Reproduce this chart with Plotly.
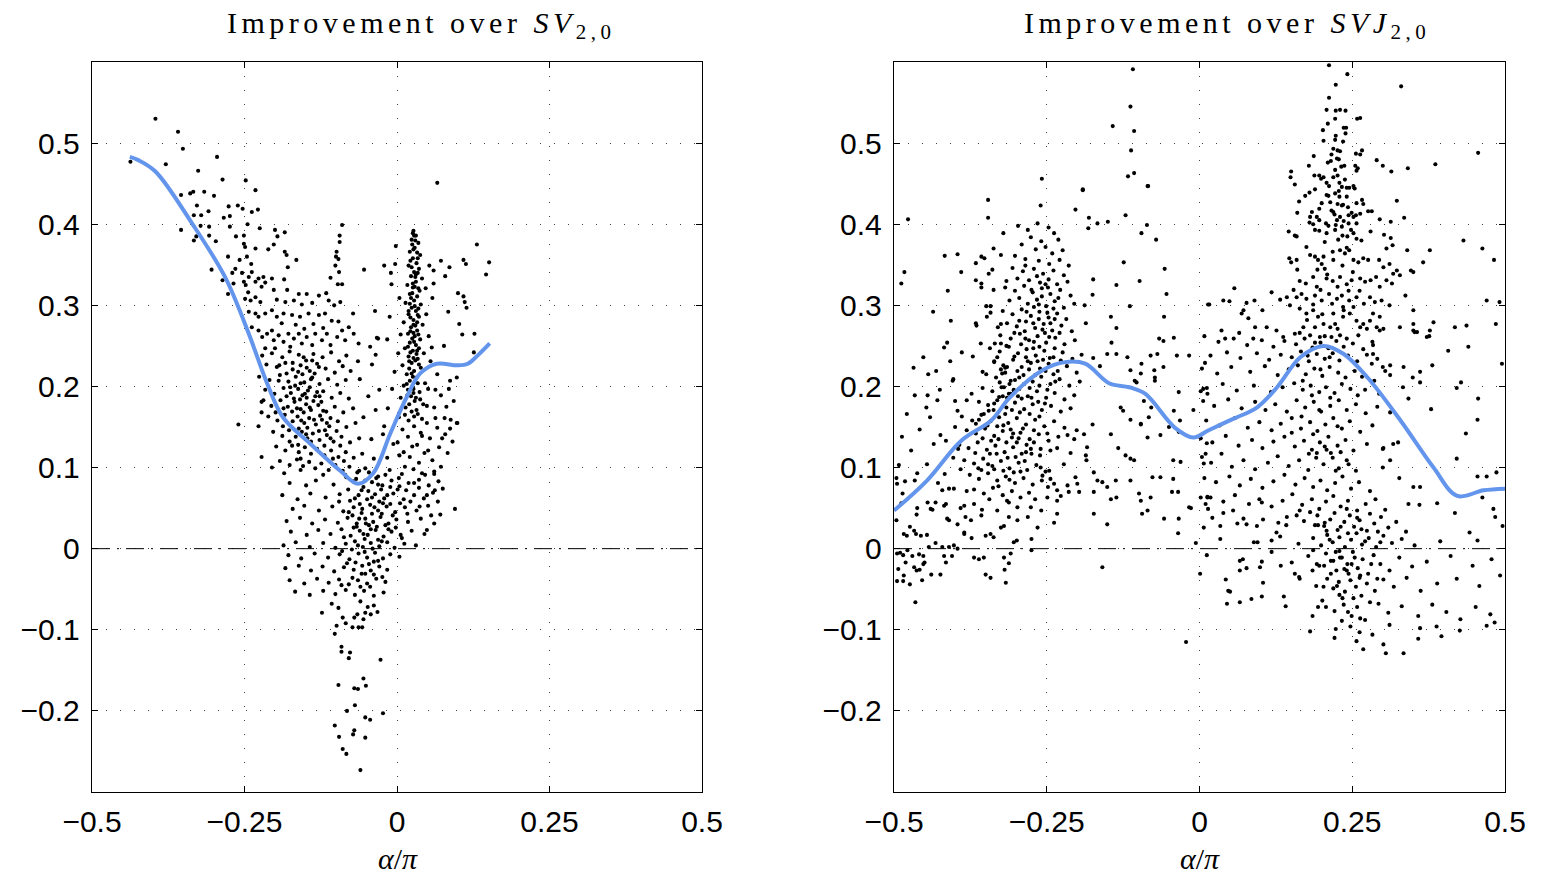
import plotly.graph_objects as go

# ---------------- data ----------------
X_TICKS = [-0.5, -0.25, 0, 0.25, 0.5]
X_TICK_TEXT = ["\u22120.5", "\u22120.25", "0", "0.25", "0.5"]
Y_TICKS = [-0.2, -0.1, 0, 0.1, 0.2, 0.3, 0.4, 0.5]
Y_TICK_TEXT = ["\u22120.2", "\u22120.1", "0", "0.1", "0.2", "0.3", "0.4", "0.5"]

TITLE_LEFT = "Improvement over <i>SV</i><sub>2,0</sub>"
TITLE_RIGHT = "Improvement over <i>SVJ</i><sub>2,0</sub>"
X_LABEL = "<i>\u03b1</i>/<i>\u03c0</i>"

# smoothed trend curves
left_curve_x = [-0.438, -0.424, -0.396, -0.336, -0.282, -0.243, -0.213, -0.187, -0.143, -0.093,
                -0.064, -0.039, -0.011, 0.016, 0.038, 0.065, 0.099, 0.116, 0.132, 0.152]
left_curve_y = [0.483, 0.479, 0.465, 0.401, 0.335, 0.265, 0.204, 0.162, 0.130, 0.096,
                0.080, 0.093, 0.142, 0.187, 0.216, 0.228, 0.226, 0.228, 0.238, 0.253]
right_curve_x = [-0.5, -0.446, -0.390, -0.341, -0.311, -0.257, -0.220, -0.187, -0.148, -0.115,
                 -0.089, -0.040, -0.010, 0.015, 0.055, 0.094, 0.127, 0.165, 0.203, 0.236,
                 0.275, 0.329, 0.383, 0.422, 0.465, 0.5]
right_curve_y = [0.047, 0.084, 0.133, 0.158, 0.186, 0.220, 0.230, 0.228, 0.204, 0.199,
                 0.191, 0.149, 0.137, 0.146, 0.160, 0.174, 0.199, 0.236, 0.250, 0.240,
                 0.211, 0.158, 0.100, 0.065, 0.072, 0.074]

# ---- left panel scatter (alpha/pi, improvement) ----
left_spray = [
    (-0.396,0.530),(-0.359,0.514),(-0.351,0.493),(-0.437,0.477),(-0.379,0.474),(-0.295,0.483),(-0.326,0.466),
    (-0.286,0.455),(-0.248,0.454),(-0.232,0.442),(-0.354,0.436),(-0.339,0.438),(-0.334,0.440),(-0.316,0.440),
    (-0.300,0.435),(-0.328,0.423),(-0.309,0.416),(-0.276,0.422),(-0.261,0.423),(-0.253,0.419),(-0.238,0.415),
    (-0.228,0.418),(-0.333,0.411),(-0.321,0.411),(-0.284,0.408),(-0.274,0.410),(-0.322,0.398),(-0.308,0.397),
    (-0.274,0.397),(-0.245,0.400),(-0.225,0.395),(-0.354,0.393),(-0.329,0.385),(-0.308,0.386),(-0.297,0.379),
    (-0.333,0.380),(-0.264,0.385),(-0.251,0.386),(-0.251,0.376),(-0.249,0.372),(-0.232,0.370),(-0.200,0.393),
    (-0.196,0.385),(-0.184,0.390),(-0.202,0.375),(-0.211,0.369),(-0.184,0.366),(-0.181,0.362),(-0.165,0.356),
    (-0.179,0.347),(-0.185,0.332),(-0.090,0.399),(-0.094,0.386),(-0.094,0.378),(-0.099,0.366),(-0.100,0.360),
    (-0.096,0.357),(-0.101,0.349),(-0.095,0.341),(-0.109,0.334),(-0.097,0.326),(-0.090,0.326),(-0.093,0.304),
    (-0.116,0.315),(-0.054,0.344),(-0.021,0.349),(-0.010,0.340),(-0.009,0.326),(-0.036,0.293),(-0.072,0.290),
    (-0.304,0.344),(-0.277,0.360),(-0.265,0.345),(-0.270,0.340),(-0.258,0.356),(-0.246,0.360),(-0.239,0.351),
    (-0.254,0.340),(-0.243,0.335),(-0.238,0.341),(-0.232,0.329),(-0.227,0.333),(-0.219,0.335),(-0.216,0.328),
    (-0.222,0.323),(-0.205,0.333),(-0.202,0.319),(-0.180,0.319),(-0.161,0.314),(-0.148,0.314),(-0.128,0.312),
    (-0.197,0.307),(-0.183,0.304),(-0.169,0.306),(-0.156,0.301),(-0.139,0.303),(-0.112,0.306),(-0.103,0.300),
    (-0.277,0.314),(-0.286,0.331),(-0.268,0.327),
]
left_upper_band = [
    (-0.251,0.329),(-0.248,0.325),(-0.244,0.316),(-0.249,0.308),(-0.240,0.306),(-0.232,0.310),(-0.224,0.304),
    (-0.243,0.292),(-0.232,0.290),(-0.227,0.286),(-0.216,0.290),(-0.205,0.294),(-0.197,0.286),(-0.186,0.290),
    (-0.172,0.288),(-0.159,0.286),(-0.145,0.290),(-0.128,0.288),(-0.118,0.290),(-0.107,0.281),(-0.096,0.280),
    (-0.090,0.269),(-0.079,0.273),(-0.238,0.273),(-0.227,0.269),(-0.221,0.261),(-0.213,0.265),(-0.205,0.269),
    (-0.202,0.257),(-0.194,0.263),(-0.186,0.255),(-0.178,0.265),(-0.169,0.259),(-0.161,0.265),(-0.156,0.253),
    (-0.148,0.261),(-0.139,0.251),(-0.134,0.265),(-0.123,0.257),(-0.115,0.265),(-0.109,0.251),(-0.098,0.261),
    (-0.085,0.257),(-0.071,0.265),(-0.063,0.253),(-0.044,0.249),(-0.031,0.259),(-0.016,0.258),(-0.175,0.249),
    (-0.200,0.247),(-0.216,0.247),(-0.166,0.276),(-0.152,0.271),(-0.137,0.277),(-0.121,0.272),(-0.189,0.278),
]
left_branch = [
    (-0.221,0.238),(-0.205,0.241),(-0.188,0.236),(-0.176,0.243),(-0.161,0.239),(-0.149,0.232),(-0.137,0.240),
    (-0.122,0.236),(-0.108,0.242),(-0.095,0.231),(-0.083,0.238),(-0.214,0.227),(-0.197,0.224),(-0.183,0.229),
    (-0.171,0.221),(-0.158,0.226),(-0.143,0.219),(-0.131,0.228),(-0.117,0.222),(-0.102,0.217),(-0.089,0.225),
    (-0.076,0.219),(-0.226,0.212),(-0.209,0.208),(-0.192,0.214),(-0.178,0.206),(-0.166,0.212),(-0.152,0.205),
    (-0.139,0.211),(-0.127,0.203),(-0.113,0.209),(-0.098,0.202),(-0.084,0.208),(-0.216,0.196),(-0.201,0.191),
    (-0.186,0.198),(-0.174,0.192),(-0.162,0.197),(-0.155,0.189),(-0.146,0.195),(-0.134,0.188),(-0.121,0.194),
    (-0.107,0.186),(-0.093,0.192),(-0.079,0.185),(-0.222,0.181),(-0.206,0.176),(-0.191,0.183),(-0.179,0.175),
    (-0.168,0.181),(-0.158,0.172),(-0.149,0.178),(-0.141,0.171),(-0.129,0.177),(-0.116,0.169),(-0.102,0.175),
    (-0.088,0.168),(-0.072,0.173),(-0.211,0.163),(-0.196,0.158),(-0.184,0.165),(-0.171,0.157),(-0.163,0.163),
    (-0.152,0.155),(-0.144,0.161),(-0.133,0.153),(-0.123,0.159),(-0.111,0.151),(-0.097,0.157),(-0.083,0.150),
    (-0.068,0.155),(-0.203,0.144),(-0.188,0.139),(-0.177,0.146),(-0.166,0.138),(-0.156,0.144),(-0.147,0.136),
    (-0.138,0.142),(-0.127,0.134),(-0.115,0.140),(-0.104,0.132),(-0.091,0.138),(-0.077,0.131),(-0.062,0.136),
    (-0.198,0.126),(-0.183,0.121),(-0.172,0.127),(-0.161,0.119),(-0.151,0.125),(-0.141,0.117),(-0.131,0.123),
    (-0.119,0.115),(-0.108,0.121),(-0.096,0.113),(-0.084,0.119),(-0.071,0.112),(-0.057,0.117),(-0.192,0.108),
    (-0.176,0.103),(-0.164,0.110),(-0.154,0.102),(-0.144,0.107),(-0.134,0.099),(-0.124,0.105),(-0.112,0.097),
    (-0.101,0.103),(-0.089,0.096),(-0.078,0.101),(-0.065,0.094),(-0.052,0.099),
    (-0.167,0.201),(-0.159,0.184),(-0.143,0.199),(-0.153,0.168),(-0.137,0.182),(-0.126,0.164),(-0.161,0.148),
    (-0.148,0.186),(-0.172,0.169),(-0.131,0.193),(-0.118,0.146),(-0.109,0.161),(-0.155,0.215),(-0.139,0.232),
    (-0.181,0.188),(-0.194,0.207),(-0.187,0.151),(-0.176,0.132),(-0.162,0.128),(-0.147,0.149),(-0.124,0.181),
    (-0.099,0.145),(-0.093,0.127),(-0.260,0.153),(-0.227,0.151),(-0.222,0.113),(-0.205,0.100),(-0.219,0.183),
    (-0.222,0.168),(-0.061,0.209),(-0.047,0.188),(-0.055,0.162),(-0.035,0.171),(-0.041,0.227),(-0.029,0.196),
    (-0.064,0.231),(-0.023,0.141),(-0.042,0.135),(-0.038,0.111),
    (-0.171,0.229),(-0.153,0.236),(-0.141,0.209),(-0.162,0.218),(-0.175,0.199),(-0.158,0.204),(-0.135,0.216),
    (-0.169,0.185),(-0.151,0.191),(-0.127,0.188),(-0.164,0.173),(-0.143,0.174),(-0.121,0.170),(-0.157,0.158),
    (-0.136,0.159),(-0.115,0.155),(-0.149,0.141),(-0.128,0.145),(-0.109,0.136),(-0.186,0.173),(-0.199,0.168),
    (-0.181,0.216),(-0.193,0.226),(-0.148,0.223),(-0.128,0.224),(-0.141,0.132),(-0.119,0.127),(-0.105,0.111),
    (-0.087,0.108),(-0.158,0.111),
]
left_bottom = [
    (-0.185,0.093),(-0.158,0.097),(-0.121,0.091),(-0.083,0.088),(-0.046,0.094),(-0.031,0.089),(-0.012,0.097),
    (0.008,0.092),(0.027,0.098),(0.046,0.091),(0.061,0.095),(-0.176,0.081),(-0.149,0.078),(-0.133,0.084),
    (-0.104,0.079),(-0.072,0.083),(-0.055,0.076),(-0.041,0.082),(-0.024,0.078),(-0.009,0.084),(0.004,0.077),
    (0.019,0.081),(0.036,0.085),(0.052,0.078),(0.068,0.083),(-0.188,0.066),(-0.163,0.061),(-0.142,0.068),
    (-0.117,0.063),(-0.094,0.067),(-0.077,0.059),(-0.063,0.066),(-0.049,0.061),(-0.036,0.067),(-0.021,0.062),
    (-0.006,0.068),(0.011,0.061),(0.028,0.066),(0.044,0.062),(0.059,0.069),(-0.171,0.049),(-0.152,0.053),
    (-0.128,0.047),(-0.106,0.052),(-0.088,0.046),(-0.071,0.051),(-0.058,0.044),(-0.044,0.054),(-0.031,0.047),
    (-0.017,0.052),(-0.003,0.045),(0.013,0.051),(0.032,0.047),(0.051,0.053),(-0.181,0.034),(-0.159,0.038),
    (-0.139,0.031),(-0.118,0.036),(-0.097,0.032),(-0.081,0.038),(-0.066,0.031),(-0.052,0.037),(-0.039,0.033),
    (-0.027,0.039),(-0.014,0.031),(-0.001,0.036),(0.018,0.033),(0.039,0.037),(0.061,0.031),(-0.174,0.021),
    (-0.148,0.017),(-0.129,0.023),(-0.109,0.018),(-0.091,0.024),(-0.076,0.016),(-0.061,0.022),(-0.048,0.017),
    (-0.035,0.023),(-0.022,0.015),(-0.009,0.021),(0.006,0.017),(0.024,0.022),(0.045,0.018),(-0.186,0.004),
    (-0.166,0.008),(-0.143,0.002),(-0.121,0.007),(-0.101,0.001),(-0.084,0.006),(-0.069,0.009),(-0.056,0.002),
    (-0.043,0.007),(-0.029,0.003),(-0.016,0.008),(-0.004,0.001),(0.012,0.006),(0.031,0.004),(-0.178,-0.008),
    (-0.157,-0.012),(-0.135,-0.006),(-0.113,-0.011),(-0.094,-0.007),(-0.078,-0.013),(-0.063,-0.006),
    (-0.049,-0.011),(-0.036,-0.005),(-0.023,-0.012),(-0.011,-0.007),(0.004,-0.010),(-0.183,-0.024),
    (-0.161,-0.021),(-0.141,-0.027),(-0.122,-0.022),(-0.103,-0.028),(-0.087,-0.023),(-0.071,-0.026),
    (-0.057,-0.021),(-0.043,-0.027),(-0.029,-0.022),(-0.016,-0.026),(-0.176,-0.039),(-0.152,-0.043),
    (-0.131,-0.037),(-0.112,-0.042),(-0.095,-0.038),(-0.079,-0.044),(-0.064,-0.039),(-0.049,-0.043),
    (-0.034,-0.037),(-0.019,-0.041),(-0.167,-0.053),(-0.143,-0.057),(-0.121,-0.052),(-0.101,-0.056),
    (-0.084,-0.051),(-0.069,-0.057),(-0.054,-0.052),(-0.038,-0.058),(-0.022,-0.054),
    (-0.066,0.027),(-0.053,0.012),(-0.041,0.043),(-0.029,0.058),(-0.047,0.071),(-0.038,-0.016),(-0.058,-0.031),
    (-0.073,0.041),(-0.087,0.014),(-0.019,0.029),(-0.011,0.055),(-0.026,0.073),(-0.061,0.055),(-0.082,-0.018),
    (-0.044,-0.047),(-0.095,0.058),(-0.067,0.086),(-0.034,0.087),(0.001,0.073),(-0.053,-0.004),(-0.074,-0.001),
    (-0.031,0.011),(-0.058,0.072),(-0.043,0.024),(-0.025,0.043),(-0.069,0.062),(-0.016,0.066),(-0.051,0.031),
    (-0.085,0.091),(-0.062,0.096),(-0.019,0.091),(-0.052,0.084),(-0.031,0.079),(-0.080,0.073),(-0.011,0.076),
    (-0.041,0.063),(-0.057,0.049),(-0.037,0.051),(-0.023,0.056),(-0.079,0.045),(-0.007,0.041),(-0.062,0.037),
    (-0.046,0.029),(-0.033,0.027),(-0.014,0.024),(-0.071,0.026),(-0.055,0.018),(-0.025,0.009),(-0.040,0.000),
    (-0.064,0.004),(-0.090,-0.003),(-0.046,-0.019),(-0.031,-0.015),(-0.068,-0.017),(-0.052,-0.031),
    (-0.038,-0.032),(-0.073,-0.036),(-0.024,-0.035),(-0.091,-0.045),(-0.060,-0.047),(0.003,0.087),
    (0.015,0.072),(0.022,0.058),(0.005,0.056),(-0.002,0.026),(0.017,0.043),(0.008,0.013),(0.036,0.075),
]
left_tail = [
    (-0.123,-0.079),(-0.107,-0.068),(-0.096,-0.073),(-0.089,-0.085),(-0.099,-0.095),(-0.084,-0.092),
    (-0.073,-0.097),(-0.102,-0.105),(-0.063,-0.097),(-0.057,-0.097),(-0.065,-0.081),(-0.070,-0.085),
    (-0.055,-0.087),(-0.052,-0.079),(-0.048,-0.072),(-0.038,-0.070),(-0.032,-0.078),(-0.043,-0.081),
    (-0.060,-0.065),(-0.091,-0.121),(-0.091,-0.127),(-0.077,-0.128),(-0.079,-0.135),(-0.027,-0.137),
    (-0.055,-0.160),(-0.096,-0.168),(-0.051,-0.169),(-0.070,-0.172),(-0.064,-0.173),(-0.069,-0.193),
    (-0.082,-0.200),(-0.023,-0.203),(-0.052,-0.208),(-0.044,-0.211),(-0.102,-0.218),(-0.070,-0.224),
    (-0.072,-0.229),(-0.095,-0.232),(-0.052,-0.233),(-0.089,-0.247),(-0.083,-0.253),(-0.060,-0.273),
]
left_spike = [
    (0.027,0.392),(0.031,0.386),(0.024,0.381),(0.035,0.377),(0.029,0.371),(0.021,0.366),(0.038,0.362),
    (0.026,0.358),(0.032,0.352),(0.019,0.349),(0.036,0.345),(0.028,0.341),(0.023,0.336),(0.041,0.333),
    (0.031,0.329),(0.017,0.325),(0.026,0.322),(0.037,0.318),(0.021,0.314),(0.033,0.311),(0.028,0.306),
    (0.014,0.303),(0.039,0.301),(0.024,0.297),(0.031,0.293),(0.019,0.289),(0.036,0.286),(0.027,0.282),
    (0.011,0.279),(0.042,0.276),(0.023,0.273),(0.033,0.269),(0.018,0.265),(0.029,0.262),(0.038,0.258),
    (0.021,0.254),(0.031,0.251),(0.013,0.247),(0.026,0.244),(0.044,0.241),(0.019,0.237),(0.034,0.234),
    (0.024,0.229),(0.009,0.226),(0.039,0.223),(0.028,0.219),(0.016,0.215),(0.032,0.211),(0.021,0.207),
    (0.046,0.204),(0.011,0.201),(0.027,0.197),(0.037,0.193),(0.017,0.189),(0.006,0.186),(0.029,0.182),
    (0.043,0.178),(0.014,0.174),(0.024,0.169),(0.034,0.166),(0.003,0.162),(0.019,0.158),(0.049,0.155),
    (0.028,0.151),(0.009,0.147),(0.039,0.143),
    (0.025,0.375),(0.033,0.365),(0.022,0.355),(0.030,0.335),(0.025,0.315),(0.035,0.296),(0.022,0.285),
    (0.030,0.275),(0.025,0.259),(0.036,0.247),(0.022,0.242),(0.030,0.232),(0.020,0.222),(0.034,0.204),
    (0.023,0.188),(0.032,0.171),(0.028,0.386),(0.034,0.340),(0.029,0.323),(0.021,0.302),(0.033,0.279),
    (0.027,0.266),(0.032,0.240),(0.026,0.212),(0.018,0.196),(0.031,0.186),
    (0.026,0.389),(0.030,0.380),(0.027,0.369),(0.034,0.358),(0.024,0.347),(0.031,0.338),(0.026,0.327),
    (0.035,0.321),(0.023,0.309),(0.029,0.299),(0.019,0.293),(0.034,0.288),(0.027,0.276),(0.022,0.268),
    (0.035,0.264),(0.028,0.255),(0.018,0.249),(0.033,0.244),(0.027,0.235),(0.020,0.231),(0.036,0.227),
    (0.024,0.216),(0.030,0.206),(0.016,0.203),(0.027,0.192),(0.038,0.184),(0.020,0.178),(0.028,0.163),
    (0.041,0.160),(0.013,0.165),
    (0.052,0.262),(0.055,0.231),(0.048,0.289),(0.058,0.309),(0.006,0.264),(0.002,0.241),(-0.004,0.218),
    (0.051,0.197),(0.061,0.174),(-0.008,0.197),(0.057,0.248),(0.047,0.321),(0.004,0.309),(-0.012,0.286),
    (0.066,0.215),(0.072,0.189),(0.063,0.161),(-0.015,0.173),(-0.021,0.151),(0.001,0.131),(0.011,0.119),
    (0.054,0.136),(0.069,0.125),(0.081,0.175),(0.079,0.141),
]
left_wing = [
    (0.045,0.118),(0.058,0.109),(0.072,0.101),(0.036,0.106),(0.021,0.113),(0.083,0.118),(0.091,0.132),
    (0.088,0.159),(0.078,0.161),(0.066,0.149),(0.051,0.121),(0.041,0.139),(0.061,0.092),(0.075,0.074),
    (0.049,0.066),(0.067,0.058),(0.056,0.041),(0.037,0.052),(0.071,0.042),(0.025,0.126),(0.013,0.101),
    (0.004,0.115),(-0.006,0.129),(-0.016,0.112),(0.063,0.196),(0.085,0.197),(0.049,0.176),(0.093,0.182),
    (0.074,0.136),(0.033,0.128),(0.018,0.138),(0.041,0.093),(0.028,0.081),
    (0.131,0.375),(0.151,0.353),(0.146,0.338),(0.109,0.356),(0.113,0.351),(0.086,0.347),(0.072,0.355),
    (0.079,0.336),(0.100,0.315),(0.109,0.311),(0.111,0.304),(0.114,0.297),(0.084,0.292),(0.102,0.277),
    (0.107,0.264),(0.127,0.265),(0.126,0.242),(0.077,0.250),(0.087,0.207),(0.099,0.155),(0.087,0.148),
    (0.060,0.343),(0.060,0.327),(0.053,0.349),(-0.003,0.351),(-0.002,0.373),(-0.033,0.260),(-0.035,0.239),
    (0.066,0.451),(0.095,0.049),(0.049,0.023),(0.062,0.072),(0.098,0.211),(0.098,0.155),
]

# ---- right panel scatter ----
right_top = [
    (0.212,0.596),(0.242,0.585),(0.223,0.572),(0.330,0.570),(0.212,0.556),(0.208,0.541),(0.223,0.540),
    (0.230,0.541),(0.239,0.540),(0.222,0.530),(0.258,0.530),(0.263,0.531),(0.210,0.524),(0.202,0.516),
    (0.236,0.519),(0.240,0.519),(0.223,0.509),(0.222,0.504),(0.203,0.503),(0.239,0.512),(0.235,0.502),
    (0.219,0.493),(0.226,0.491),(0.230,0.490),(0.256,0.487),(0.266,0.491),(0.263,0.486),(0.216,0.486),
    (0.225,0.481),(0.228,0.480),(0.187,0.484),(0.456,0.488),(0.290,0.479),(0.300,0.472),(0.314,0.465),
    (0.341,0.469),(0.386,0.474),(0.210,0.476),(0.179,0.472),(0.150,0.465),(0.149,0.458),(0.156,0.449),
    (0.222,0.467),(0.226,0.460),(0.237,0.472),(0.255,0.472),(0.259,0.469),(0.257,0.466),(0.188,0.460),
    (0.196,0.460),(0.199,0.456),(0.203,0.458),(0.208,0.451),(0.212,0.447),(0.229,0.451),(0.233,0.446),
    (0.241,0.445),(0.245,0.445),(0.252,0.447),(0.254,0.444),(0.189,0.443),(0.208,0.436),(0.211,0.435),
    (0.222,0.438),(0.229,0.434),(0.226,0.425),(0.233,0.423),(0.241,0.434),(0.235,0.424),(0.173,0.435),
    (0.180,0.439),(0.163,0.428),(0.200,0.426),(0.196,0.419),(0.257,0.426),(0.266,0.430),(0.268,0.425),
    (0.263,0.413),(0.276,0.416),(0.282,0.416),(0.323,0.429),(0.216,0.417),(0.219,0.415),(0.184,0.415),
    (0.160,0.414),(0.181,0.409),(0.192,0.409),(0.230,0.409),(0.244,0.411),(0.249,0.414),(0.252,0.409),
    (0.256,0.411),(0.295,0.406),(0.335,0.408),(0.180,0.402),(0.186,0.400),(0.196,0.405),(0.207,0.401),
    (0.225,0.405),(0.223,0.399),(0.233,0.397),(0.244,0.401),(0.257,0.401),(0.313,0.403),(0.146,0.391),
    (0.156,0.386),(0.159,0.385),(0.189,0.393),(0.196,0.392),(0.208,0.389),(0.222,0.393),(0.234,0.386),
    (0.242,0.385),(0.252,0.389),(0.257,0.382),(0.265,0.380),(0.280,0.391),(0.302,0.387),(0.313,0.383),
    (0.316,0.374),(0.306,0.370),(0.340,0.368),(0.377,0.368),(0.432,0.380),(0.463,0.370),(0.482,0.356),
    (0.366,0.353),(0.147,0.358),(0.150,0.353),(0.159,0.356),(0.160,0.344),(0.175,0.372),(0.181,0.362),
    (0.189,0.360),(0.194,0.356),(0.203,0.360),(0.200,0.351),(0.193,0.344),(0.205,0.345),(0.218,0.366),
    (0.230,0.368),(0.238,0.364),(0.245,0.368),(0.252,0.356),(0.260,0.353),(0.268,0.358),(0.276,0.356),
    (0.294,0.356),(0.301,0.347),(0.311,0.351),(0.317,0.339),(0.323,0.343),(0.328,0.337),(0.346,0.343),
    (0.350,0.341),(0.164,0.330),(0.174,0.327),(0.186,0.335),(0.192,0.323),(0.208,0.333),(0.218,0.330),
    (0.230,0.335),(0.241,0.326),(0.249,0.331),(0.263,0.333),(0.271,0.329),(0.280,0.331),(0.289,0.335),
    (0.295,0.323),(0.306,0.331),(0.315,0.327),(0.337,0.312),(0.057,0.321),(0.118,0.316),(0.132,0.307),
    (0.143,0.310),(0.154,0.319),(0.159,0.310),(0.167,0.314),(0.175,0.308),(0.189,0.312),(0.200,0.306),
    (0.212,0.314),(0.225,0.308),(0.233,0.312),(0.245,0.306),(0.257,0.310),(0.269,0.302),(0.279,0.310),
    (0.287,0.304),(0.298,0.306),(0.311,0.300),(0.470,0.306),(0.491,0.304),(0.014,0.301),(0.039,0.306),
    (0.049,0.305),(0.072,0.294),(0.077,0.303),(0.090,0.306),(0.103,0.294),(0.350,0.294),(0.383,0.279),
    (0.418,0.273),(0.437,0.275),(0.485,0.277),(0.148,0.300),(0.164,0.296),(0.175,0.290),(0.186,0.294),
    (0.194,0.286),(0.203,0.277),(0.214,0.273),(0.222,0.277),(0.235,0.286),(0.246,0.290),(0.257,0.281),
    (0.268,0.277),(0.279,0.281),(0.290,0.273),(0.295,0.286),(0.263,0.273),(0.274,0.271),(0.284,0.290),
    (0.252,0.298),(0.235,0.298),(0.219,0.290),(0.189,0.273),(0.170,0.273),(0.156,0.265),(0.137,0.261),
    (0.126,0.269),(0.110,0.273),(0.091,0.273),(0.080,0.284),(0.069,0.290),(0.065,0.266),(0.042,0.259),
    (0.036,0.269),(0.088,0.259),(0.181,0.263),(0.197,0.261),(0.216,0.261),(0.230,0.263),(0.241,0.259),
    (0.260,0.263),(0.295,0.269),(0.301,0.271),(0.350,0.277),(0.356,0.267),(0.372,0.261),(0.328,0.273),
    (-0.109,0.591),(-0.113,0.545),(-0.142,0.521),(-0.107,0.515),(-0.112,0.491),(-0.117,0.459),(-0.107,0.463),
    (-0.258,0.456),(-0.191,0.443),(-0.084,0.447),
    (0.215,0.478),(0.232,0.471),(0.219,0.458),(0.238,0.455),(0.228,0.441),(0.214,0.427),(0.243,0.421),
    (0.221,0.412),(0.236,0.404),(0.211,0.398),(0.248,0.393),(0.227,0.381),(0.205,0.378),(0.241,0.371),
    (0.219,0.356),(0.234,0.349),(0.209,0.338),(0.251,0.341),(0.226,0.323),(0.244,0.318),(0.198,0.319),
    (0.262,0.318),(0.217,0.302),(0.236,0.294),(0.186,0.301),
]
right_mid = [
    (0.008,0.262),(0.031,0.255),(0.056,0.259),(0.078,0.251),(0.102,0.257),(0.121,0.249),(0.139,0.256),
    (0.158,0.252),(0.172,0.259),(0.185,0.248),(0.198,0.254),(0.211,0.247),(0.224,0.256),(0.236,0.249),
    (0.251,0.253),(0.268,0.246),(0.283,0.255),(0.352,0.267),(0.376,0.262),(0.018,0.238),(0.045,0.242),
    (0.067,0.235),(0.094,0.241),(0.114,0.233),(0.133,0.239),(0.151,0.236),(0.166,0.243),(0.179,0.231),
    (0.192,0.240),(0.205,0.234),(0.218,0.241),(0.229,0.232),(0.243,0.238),(0.258,0.231),(0.274,0.239),
    (0.291,0.234),(0.312,0.226),(0.407,0.244),(0.004,0.222),(0.029,0.216),(0.052,0.224),(0.083,0.218),
    (0.107,0.225),(0.128,0.214),(0.146,0.221),(0.161,0.226),(0.174,0.215),(0.188,0.222),(0.201,0.213),
    (0.213,0.224),(0.227,0.217),(0.239,0.211),(0.254,0.219),(0.266,0.212),(0.286,0.207),(0.304,0.219),
    (0.334,0.224),(0.012,0.198),(0.038,0.203),(0.061,0.195),(0.089,0.201),(0.117,0.193),(0.136,0.199),
    (0.155,0.204),(0.169,0.196),(0.182,0.201),(0.196,0.193),(0.207,0.199),(0.221,0.192),(0.233,0.203),
    (0.247,0.197),(0.259,0.189),(0.271,0.196),(0.294,0.191),(0.428,0.205),(0.333,0.199),
    (0.342,0.185),(0.379,0.172),(0.421,0.198),(0.456,0.185),(0.455,0.159),(0.436,0.142),(0.495,0.228),
    (0.440,0.249),(0.381,0.226),(0.361,0.218),(0.361,0.205),(0.349,0.211),(0.312,0.214),(0.300,0.224),
    (0.284,0.251),(0.284,0.240),(0.282,0.228),(0.350,0.269),(0.377,0.269),
    (0.006,0.182),(0.024,0.176),(0.047,0.184),(0.069,0.173),(0.091,0.181),(0.108,0.171),(0.124,0.178),
    (0.143,0.169),(0.159,0.183),(0.173,0.174),(0.187,0.181),(0.199,0.169),(0.214,0.176),(0.228,0.183),
    (0.241,0.171),(0.256,0.178),(0.272,0.167),(0.291,0.175),(0.312,0.168),(0.011,0.158),(0.033,0.152),
    (0.058,0.161),(0.079,0.149),(0.098,0.156),(0.118,0.146),(0.133,0.154),(0.151,0.161),(0.166,0.148),
    (0.181,0.156),(0.193,0.145),(0.206,0.153),(0.219,0.161),(0.233,0.148),(0.246,0.157),(0.263,0.144),
    (0.283,0.152),(0.002,0.136),(0.021,0.131),(0.043,0.139),(0.064,0.127),(0.086,0.134),(0.103,0.124),
    (0.121,0.132),(0.139,0.138),(0.156,0.126),(0.171,0.133),(0.184,0.122),(0.197,0.131),(0.211,0.138),
    (0.226,0.127),(0.239,0.134),(0.252,0.121),(0.274,0.129),(0.301,0.124),
    (0.300,0.123),(0.317,0.129),(0.325,0.131),(0.312,0.109),(0.300,0.100),(0.327,0.087),(0.350,0.076),
    (0.361,0.076),(0.342,0.055),(0.360,0.054),(0.389,0.056),(0.418,0.044),(0.421,0.111),(0.470,0.089),
    (0.486,0.094),(0.455,0.089),(0.481,0.049),(0.484,0.039),(0.442,0.020),(0.455,0.010),(0.463,0.063),
    (0.496,0.028),(0.192,0.118),(0.205,0.126),(0.218,0.112),(0.231,0.119),(0.244,0.104),
    (0.176,0.282),(0.201,0.289),(0.226,0.271),(0.164,0.266),(0.189,0.254),(0.205,0.262),(0.177,0.238),
    (0.213,0.236),(0.198,0.221),(0.169,0.207),(0.184,0.189),(0.214,0.186),(0.196,0.171),(0.167,0.163),
    (0.226,0.151),(0.186,0.141),(0.151,0.143),(0.208,0.122),(0.179,0.117),(0.223,0.096),
]
right_lower = [
    (0.004,0.113),(0.019,0.106),(0.036,0.117),(0.053,0.101),(0.072,0.109),(0.091,0.098),(0.112,0.106),
    (0.128,0.114),(0.146,0.102),(0.163,0.109),(0.178,0.097),(0.191,0.112),(0.203,0.104),(0.215,0.118),
    (0.228,0.099),(0.241,0.109),(0.256,0.096),(0.008,0.087),(0.027,0.082),(0.049,0.089),(0.066,0.078),
    (0.084,0.086),(0.103,0.075),(0.121,0.083),(0.139,0.091),(0.157,0.079),(0.172,0.087),(0.186,0.076),
    (0.198,0.084),(0.209,0.072),(0.222,0.081),(0.234,0.089),(0.248,0.074),(0.261,0.082),(0.279,0.071),
    (0.013,0.064),(0.039,0.058),(0.058,0.066),(0.081,0.055),(0.098,0.061),(0.118,0.052),(0.136,0.059),
    (0.152,0.067),(0.168,0.054),(0.184,0.061),(0.196,0.049),(0.207,0.058),(0.219,0.065),(0.231,0.052),
    (0.243,0.059),(0.258,0.047),(0.272,0.055),(0.288,0.061),(0.304,0.048),(0.021,0.038),(0.062,0.031),
    (0.104,0.036),(0.142,0.029),(0.171,0.034),(0.193,0.041),(0.204,0.028),(0.214,0.036),(0.226,0.023),
    (0.237,0.033),(0.246,0.041),(0.253,0.027),(0.262,0.035),(0.274,0.022),(0.286,0.031),(0.297,0.039),
    (0.309,0.026),(0.322,0.033),(0.338,0.021),(0.034,0.012),(0.089,0.008),(0.132,0.015),(0.162,0.006),
    (0.186,0.013),(0.199,0.004),(0.209,0.017),(0.218,0.008),(0.229,0.014),(0.238,0.002),(0.248,0.011),
    (0.257,0.019),(0.266,0.005),(0.277,0.013),(0.289,0.002),(0.301,0.016),(0.315,0.007),(0.331,0.012),
    (0.352,0.004),(0.394,0.009),(0.012,-0.008),(0.071,-0.013),(0.118,-0.004),(0.151,-0.017),
    (0.178,-0.009),(0.196,-0.021),(0.207,-0.006),(0.215,-0.015),(0.224,-0.027),(0.233,-0.011),
    (0.242,-0.019),(0.251,-0.004),(0.259,-0.024),(0.267,-0.013),(0.276,-0.031),(0.285,-0.008),
    (0.296,-0.019),(0.311,-0.027),(0.327,-0.011),(0.348,-0.022),(0.372,-0.016),(0.411,-0.009),
    (0.447,-0.021),(0.478,-0.013),(0.043,-0.038),(0.104,-0.042),(0.163,-0.035),(0.191,-0.046),
    (0.209,-0.037),(0.219,-0.049),(0.228,-0.041),(0.238,-0.053),(0.247,-0.039),(0.256,-0.047),
    (0.265,-0.058),(0.274,-0.043),(0.287,-0.052),(0.301,-0.038),(0.318,-0.047),(0.339,-0.036),
    (0.362,-0.052),(0.389,-0.043),(0.421,-0.037),(0.458,-0.046),(0.492,-0.033),(0.066,-0.066),
    (0.141,-0.071),(0.201,-0.064),(0.221,-0.077),(0.236,-0.069),(0.249,-0.083),(0.258,-0.072),
    (0.271,-0.088),(0.293,-0.068),(0.309,-0.079),(0.331,-0.071),(0.358,-0.083),(0.381,-0.069),
    (0.404,-0.078),(0.427,-0.087),(0.452,-0.072),(0.476,-0.081),(0.247,-0.096),(0.262,-0.103),
    (0.223,-0.099),(0.311,-0.094),(0.361,-0.098),(0.396,-0.108),(0.426,-0.101),(0.483,-0.091),
    (0.257,-0.114),(0.283,-0.106),(0.334,-0.129),(0.301,-0.118),(0.221,-0.110),(0.181,-0.102),
    (0.358,-0.111),(0.268,-0.124),(0.305,-0.129),(0.185,-0.083),(0.194,-0.072),(0.207,-0.072),
    (0.045,-0.068),(0.050,-0.053),(0.085,-0.062),(0.102,-0.059),(0.138,-0.059),(0.470,-0.095),
    (0.388,-0.096),(0.013,0.063),(0.039,0.044),(0.055,0.047),(0.072,0.037),(0.077,0.030),(0.094,0.028),
    (0.102,0.057),(0.034,0.028),(0.095,0.008),(0.118,0.010),(0.129,0.032),(0.126,0.020),(0.143,0.039),
    (0.164,0.047),(0.159,0.041),(0.181,0.045),(0.189,0.029),(0.194,0.029),(0.205,0.032),(0.208,0.022),
    (0.186,-0.002),(0.066,-0.015),(0.077,-0.024),(0.102,-0.016),(0.099,-0.023),(0.133,-0.021),
    (0.066,-0.027),(0.047,-0.052),(0.156,-0.031),(0.164,-0.037),(0.185,-0.027),(0.192,-0.019),
    (0.204,-0.021),(0.203,-0.047),(0.225,-0.046),(0.241,-0.027),(0.249,-0.019),(0.230,-0.011),
    (0.219,-0.015),(-0.022,-0.115),(0.234,-0.061),(0.244,-0.031),(0.262,-0.036),(0.229,-0.003),
    (0.221,0.044),(0.241,0.049),(0.258,0.038),(0.279,0.043),(0.231,0.027),(0.265,0.024),(0.292,0.021),
    (0.213,0.011),(0.243,0.019),(0.271,0.009),(0.296,0.008),(0.223,-0.004),(0.254,-0.011),(0.281,-0.019),
    (0.237,-0.025),(0.263,-0.033),(0.291,-0.037),(0.215,-0.031),(0.252,-0.061),(0.229,-0.057),
    (0.279,-0.066),(0.243,-0.078),(0.263,-0.086),(0.233,-0.089),
]
right_left = [
    (-0.477,0.406),(-0.483,0.341),(-0.488,0.327),(-0.468,0.223),(-0.436,0.292),(-0.417,0.361),(-0.396,0.363),
    (-0.412,0.318),(-0.407,0.281),(-0.413,0.254),(-0.389,0.242),(-0.390,0.341),(-0.366,0.352),(-0.357,0.360),
    (-0.352,0.358),(-0.346,0.430),(-0.346,0.408),(-0.337,0.370),(-0.325,0.362),(-0.321,0.389),(-0.366,0.331),
    (-0.357,0.327),(-0.357,0.322),(-0.345,0.339),(-0.339,0.344),(-0.316,0.330),(-0.337,0.319),(-0.349,0.299),
    (-0.342,0.299),(-0.366,0.278),(-0.365,0.275),(-0.358,0.253),(-0.371,0.237),(-0.444,0.215),(-0.403,0.209),
    (-0.404,0.207),(-0.445,0.189),(-0.447,0.174),(-0.429,0.183),(-0.400,0.182),(-0.396,0.170),(-0.381,0.183),
    (-0.373,0.191),(-0.355,0.218),(-0.342,0.291),(-0.348,0.286),(-0.335,0.253),(-0.325,0.253),(-0.331,0.236),
    (-0.336,0.230),(-0.325,0.277),(-0.330,0.273),(-0.323,0.216),(-0.325,0.221),(-0.315,0.224),(-0.320,0.199),
    (-0.309,0.207),(-0.312,0.191),(-0.304,0.195),(-0.328,0.187),(-0.336,0.179),(-0.345,0.170),(-0.353,0.166),
    (-0.361,0.159),(-0.366,0.154),
    (-0.487,0.138),(-0.472,0.121),(-0.458,0.147),(-0.441,0.162),(-0.466,0.189),(-0.452,0.236),(-0.431,0.219),
    (-0.479,0.166),(-0.492,0.103),(-0.425,0.196),(-0.408,0.231),(-0.418,0.248),
    (-0.496,0.087),(-0.495,0.080),(-0.482,0.083),(-0.488,0.056),(-0.496,0.035),(-0.462,0.093),(-0.446,0.104),
    (-0.466,0.084),(-0.486,0.068),(-0.462,0.050),(-0.463,0.042),(-0.474,0.027),(-0.484,0.018),(-0.479,0.016),
    (-0.467,0.022),(-0.456,0.016),(-0.464,0.018),(-0.446,0.017),(-0.443,0.002),(-0.432,0.007),(-0.421,0.002),
    (-0.410,0.002),(-0.402,0.004),(-0.396,0.000),(-0.495,-0.006),(-0.490,-0.005),(-0.485,-0.008),
    (-0.478,-0.002),(-0.470,-0.009),(-0.459,-0.007),(-0.452,-0.009),(-0.493,-0.025),(-0.481,-0.017),
    (-0.484,-0.033),(-0.495,-0.040),(-0.485,-0.040),(-0.474,-0.044),(-0.467,-0.023),(-0.463,-0.027),
    (-0.458,-0.026),(-0.452,-0.019),(-0.450,-0.017),(-0.454,-0.039),(-0.439,-0.032),(-0.424,-0.032),
    (-0.418,-0.009),(-0.415,-0.017),(-0.405,-0.009),(-0.465,-0.066),(-0.369,-0.011),(-0.361,-0.013),
    (-0.353,-0.011),(-0.350,-0.032),(-0.342,-0.036),(-0.320,-0.011),(-0.319,-0.026),(-0.312,-0.018),
    (-0.309,-0.006),(-0.317,-0.042),(-0.304,0.008),(-0.299,0.010),(-0.275,-0.002),(-0.275,0.012),
    (-0.159,-0.023),(0.001,-0.031),
    (-0.435,0.129),(-0.424,0.140),(-0.415,0.133),(-0.400,0.150),(-0.445,0.057),(-0.440,0.049),(-0.437,0.048),
    (-0.418,0.053),(-0.415,0.055),(-0.432,0.057),(-0.421,0.072),(-0.410,0.074),(-0.402,0.074),(-0.413,0.037),
    (-0.410,0.035),(-0.396,0.030),(-0.385,0.020),(-0.385,0.018),(-0.373,0.013),(-0.383,0.039),(-0.374,0.035),
    (-0.357,0.041),(-0.350,0.016),(-0.342,0.018),(-0.337,0.014),(-0.325,0.026),(-0.320,0.028),(-0.312,0.039),
    (-0.315,0.059),(-0.312,0.057),(-0.298,0.051),(-0.298,0.035),(-0.391,0.050),(-0.385,0.053),
    (-0.391,0.098),(-0.403,0.112),(-0.381,0.071),(-0.369,0.055),(-0.356,0.048),(-0.344,0.061),(-0.331,0.047),
    (-0.417,0.092),(-0.428,0.081),(-0.395,0.123),
]
right_core = [
    (-0.297,0.398),(-0.281,0.393),(-0.265,0.401),(-0.247,0.396),(-0.238,0.389),(-0.276,0.384),(-0.259,0.379),
    (-0.231,0.381),(-0.291,0.375),(-0.268,0.369),(-0.252,0.372),(-0.241,0.364),(-0.224,0.368),(-0.302,0.361),
    (-0.285,0.357),(-0.263,0.355),(-0.246,0.351),(-0.229,0.356),(-0.214,0.349),(-0.306,0.346),(-0.289,0.342),
    (-0.271,0.345),(-0.256,0.339),(-0.239,0.343),(-0.222,0.337),(-0.298,0.333),(-0.279,0.331),(-0.261,0.328),
    (-0.247,0.332),(-0.233,0.326),(-0.216,0.329),
    (-0.318,0.322),(-0.302,0.318),(-0.287,0.324),(-0.273,0.316),(-0.258,0.321),(-0.244,0.314),(-0.228,0.319),
    (-0.211,0.312),(-0.311,0.306),(-0.295,0.309),(-0.281,0.302),(-0.266,0.307),(-0.251,0.299),(-0.237,0.305),
    (-0.222,0.297),(-0.205,0.302),(-0.322,0.293),(-0.306,0.289),(-0.291,0.295),(-0.276,0.287),(-0.262,0.292),
    (-0.247,0.285),(-0.233,0.290),(-0.218,0.283),(-0.315,0.278),(-0.299,0.274),(-0.284,0.280),(-0.269,0.272),
    (-0.255,0.277),(-0.241,0.269),(-0.226,0.275),(-0.209,0.268),(-0.326,0.263),(-0.309,0.259),(-0.294,0.265),
    (-0.279,0.257),(-0.265,0.262),(-0.251,0.254),(-0.236,0.260),(-0.221,0.252),(-0.204,0.257),(-0.258,0.311),
    (-0.271,0.298),(-0.244,0.278),(-0.286,0.268),(-0.253,0.266),(-0.239,0.296),(-0.263,0.283),(-0.248,0.322),
    (-0.231,0.309),
    (-0.343,0.247),(-0.327,0.243),(-0.312,0.249),(-0.297,0.241),(-0.283,0.246),(-0.268,0.238),(-0.254,0.244),
    (-0.239,0.236),(-0.224,0.242),(-0.208,0.234),(-0.193,0.239),(-0.336,0.231),(-0.321,0.226),(-0.305,0.233),
    (-0.291,0.224),(-0.276,0.229),(-0.261,0.222),(-0.247,0.228),(-0.232,0.219),(-0.217,0.225),(-0.201,0.217),
    (-0.349,0.215),(-0.333,0.211),(-0.318,0.217),(-0.302,0.208),(-0.288,0.214),(-0.273,0.206),(-0.259,0.212),
    (-0.244,0.203),(-0.229,0.209),(-0.213,0.201),(-0.196,0.206),(-0.355,0.198),(-0.339,0.194),(-0.324,0.199),
    (-0.309,0.191),(-0.295,0.197),(-0.281,0.188),(-0.266,0.194),(-0.251,0.186),(-0.237,0.192),(-0.221,0.184),
    (-0.205,0.189),(-0.361,0.181),(-0.346,0.177),(-0.331,0.183),(-0.316,0.174),(-0.302,0.180),(-0.287,0.172),
    (-0.273,0.178),(-0.258,0.171),(-0.243,0.176),(-0.227,0.169),(-0.211,0.173),
    (-0.284,0.236),(-0.298,0.219),(-0.269,0.214),(-0.311,0.203),(-0.278,0.198),(-0.256,0.233),(-0.291,0.185),
    (-0.322,0.188),(-0.264,0.181),(-0.307,0.171),(-0.239,0.215),(-0.272,0.247),
    (-0.389,0.163),(-0.372,0.158),(-0.357,0.165),(-0.342,0.157),(-0.328,0.162),(-0.313,0.155),(-0.299,0.161),
    (-0.284,0.153),(-0.269,0.159),(-0.254,0.151),(-0.238,0.157),(-0.221,0.149),(-0.381,0.146),(-0.366,0.142),
    (-0.351,0.148),(-0.336,0.139),(-0.322,0.145),(-0.307,0.137),(-0.293,0.143),(-0.278,0.135),(-0.263,0.141),
    (-0.247,0.133),(-0.231,0.138),(-0.393,0.128),(-0.378,0.124),(-0.363,0.131),(-0.348,0.122),(-0.334,0.127),
    (-0.319,0.119),(-0.305,0.125),(-0.291,0.117),(-0.276,0.123),(-0.261,0.115),(-0.244,0.121),(-0.385,0.109),
    (-0.369,0.105),(-0.354,0.111),(-0.339,0.102),(-0.325,0.108),(-0.311,0.099),(-0.296,0.106),(-0.282,0.097),
    (-0.267,0.103),(-0.252,0.095),(-0.376,0.091),(-0.361,0.086),(-0.346,0.093),(-0.331,0.084),(-0.317,0.089),
    (-0.302,0.081),(-0.288,0.087),(-0.273,0.079),(-0.258,0.084),(-0.369,0.073),(-0.353,0.068),(-0.338,0.075),
    (-0.322,0.066),(-0.307,0.071),(-0.293,0.063),(-0.279,0.069),
    (-0.329,0.135),(-0.314,0.112),(-0.343,0.117),(-0.299,0.131),(-0.357,0.097),(-0.286,0.108),(-0.321,0.152),
    (-0.305,0.142),(-0.336,0.098),(-0.271,0.131),
    (-0.285,0.349),(-0.266,0.336),(-0.252,0.326),(-0.275,0.319),(-0.263,0.301),(-0.249,0.291),(-0.283,0.292),
    (-0.295,0.281),(-0.272,0.278),(-0.257,0.270),(-0.237,0.283),(-0.303,0.266),(-0.285,0.259),(-0.271,0.255),
    (-0.246,0.261),(-0.229,0.266),(-0.316,0.250),(-0.292,0.252),(-0.262,0.249),(-0.237,0.247),(-0.303,0.237),
    (-0.281,0.231),(-0.265,0.231),(-0.245,0.235),(-0.227,0.232),(-0.318,0.223),(-0.295,0.211),(-0.279,0.221),
    (-0.252,0.219),(-0.236,0.206),(-0.327,0.205),(-0.304,0.196),(-0.287,0.203),(-0.262,0.201),(-0.249,0.196),
    (-0.315,0.186),(-0.297,0.188),(-0.275,0.186),(-0.253,0.179),(-0.337,0.171),(-0.318,0.166),(-0.294,0.168),
    (-0.278,0.166),(-0.262,0.163),(-0.347,0.152),(-0.331,0.151),(-0.309,0.147),(-0.289,0.148),(-0.271,0.146),
    (-0.355,0.136),(-0.341,0.133),(-0.316,0.131),(-0.296,0.136),(-0.283,0.128),(-0.367,0.118),(-0.332,0.117),
    (-0.301,0.113),(-0.284,0.119),(-0.346,0.104),(-0.321,0.096),(-0.304,0.094),(-0.362,0.099),(-0.329,0.077),
    (-0.311,0.085),(-0.293,0.095),
]
right_gap = [
    (-0.191,0.442),(-0.203,0.418),(-0.260,0.423),(-0.181,0.408),(-0.182,0.395),(-0.167,0.401),(-0.150,0.403),
    (-0.121,0.411),(-0.085,0.447),(-0.086,0.399),(-0.095,0.389),(-0.071,0.381),(-0.124,0.353),(-0.057,0.345),
    (-0.098,0.330),(-0.136,0.325),(-0.054,0.314),(-0.174,0.332),(-0.175,0.313),(-0.188,0.300),(-0.114,0.299),
    (-0.145,0.286),(-0.186,0.278),(-0.058,0.286),(-0.136,0.272),(-0.144,0.254),(-0.066,0.259),(-0.059,0.256),
    (-0.042,0.260),(-0.174,0.235),(-0.151,0.240),(-0.136,0.240),(-0.118,0.236),(-0.163,0.225),(-0.080,0.238),
    (-0.069,0.240),(-0.095,0.228),(-0.037,0.238),(-0.017,0.238),(-0.113,0.220),(-0.096,0.216),(-0.074,0.220),
    (-0.073,0.211),(-0.073,0.207),(-0.059,0.224),(-0.034,0.193),(0.002,0.194),(0.006,0.197),(0.013,0.191),
    (-0.010,0.171),(0.009,0.229),(0.016,0.301),(-0.103,0.205),(-0.106,0.207),(-0.091,0.182),(-0.129,0.174),
    (-0.125,0.170),(-0.113,0.159),(-0.096,0.154),(-0.083,0.162),(-0.079,0.174),(-0.042,0.170),(-0.032,0.158),
    (-0.260,0.100),(-0.257,0.090),(-0.246,0.096),(-0.248,0.076),(-0.244,0.086),(-0.238,0.080),(-0.233,0.072),
    (-0.227,0.065),(-0.233,0.059),(-0.216,0.078),(-0.214,0.070),(-0.200,0.080),(-0.197,0.070),(-0.203,0.088),
    (-0.184,0.125),(-0.186,0.115),(-0.185,0.109),(-0.173,0.094),(-0.167,0.084),(-0.159,0.082),(-0.173,0.070),
    (-0.173,0.043),(-0.151,0.030),(-0.145,0.061),(-0.151,0.076),(-0.136,0.063),(-0.137,0.084),(-0.133,0.124),
    (-0.145,0.141),(-0.121,0.115),(-0.113,0.111),(-0.113,0.084),(-0.107,0.109),(-0.099,0.068),(-0.096,0.059),
    (-0.094,0.043),(-0.085,0.047),(-0.080,0.063),(-0.077,0.088),(-0.064,0.088),(-0.058,0.037),(-0.043,0.109),
    (-0.043,0.086),(-0.035,0.070),(-0.045,0.070),(-0.031,0.107),(-0.034,0.037),(-0.035,0.019),(-0.017,0.051),
    (-0.014,0.050),(-0.006,0.007),(0.002,0.063),(0.010,0.055),(0.018,0.063),(0.014,0.049),(0.007,0.026),
    (0.010,0.117),(0.007,0.105),(0.012,0.130),(-0.050,0.150),(-0.034,0.144),(-0.096,0.153),(-0.064,0.140),
    (-0.085,0.137),(-0.175,0.153),(-0.189,0.141),(-0.201,0.146),(-0.205,0.135),(-0.216,0.140),(-0.233,0.124),
    (-0.249,0.142),(-0.260,0.123),(-0.275,0.117),(-0.276,0.051),(-0.265,0.026),(-0.259,0.047),(-0.233,0.043),
    (-0.249,0.063),(-0.238,0.032),(-0.269,0.061),(-0.281,0.039),(-0.222,0.104),(-0.211,0.118),
]

# ---------------- build figure ----------------
def split(*groups):
    xs, ys = [], []
    for g in groups:
        for a, b in g:
            xs.append(a)
            ys.append(b)
    return xs, ys

lx, ly = split(left_spray, left_upper_band, left_branch, left_bottom, left_tail, left_spike, left_wing)
rx, ry = split(right_top, right_mid, right_lower, right_left, right_core, right_gap)

W, H = 1546, 878
L1, R1 = 92 / W, 702 / W
L2, R2 = 894 / W, 1505 / W
BOT, TOP = 1 - 792 / H, 1 - 62 / H

BLUE = "#6495ED"
dot_marker = dict(size=4.1, color="black", line=dict(width=0))

fig = go.Figure()
fig.add_trace(go.Scatter(x=lx, y=ly, mode="markers", marker=dot_marker, xaxis="x", yaxis="y",
                         hoverinfo="skip", showlegend=False))
fig.add_trace(go.Scatter(x=left_curve_x, y=left_curve_y, mode="lines", xaxis="x", yaxis="y",
                         line=dict(color=BLUE, width=4, shape="spline", smoothing=1.0),
                         hoverinfo="skip", showlegend=False))
fig.add_trace(go.Scatter(x=rx, y=ry, mode="markers", marker=dot_marker, xaxis="x2", yaxis="y2",
                         hoverinfo="skip", showlegend=False))
fig.add_trace(go.Scatter(x=right_curve_x, y=right_curve_y, mode="lines", xaxis="x2", yaxis="y2",
                         line=dict(color=BLUE, width=4, shape="spline", smoothing=1.0),
                         hoverinfo="skip", showlegend=False))

tick_font = dict(family="Liberation Sans, Arial, sans-serif", size=30, color="black")
common_x = dict(range=[-0.5, 0.5], tickmode="array", tickvals=X_TICKS, ticktext=X_TICK_TEXT,
                ticks="inside", ticklen=6, tickwidth=1, tickcolor="black",
                showline=True, linecolor="black", linewidth=1.4, mirror="ticks",
                showgrid=True, gridcolor="rgba(0,0,0,0.75)", gridwidth=1, griddash="1px,13px",
                zeroline=False, tickfont=tick_font, ticklabelstandoff=3, automargin=False,
                fixedrange=True)
common_y = dict(range=[-0.3, 0.6], tickmode="array", tickvals=Y_TICKS, ticktext=Y_TICK_TEXT,
                ticks="inside", ticklen=6, tickwidth=1, tickcolor="black",
                showline=True, linecolor="black", linewidth=1.4, mirror="ticks",
                showgrid=True, gridcolor="rgba(0,0,0,0.75)", gridwidth=1, griddash="1px,13px",
                zeroline=False, tickfont=tick_font, ticklabelstandoff=5, automargin=False,
                fixedrange=True)

fig.update_layout(
    width=W, height=H,
    margin=dict(l=0, r=0, t=0, b=0),
    paper_bgcolor="white", plot_bgcolor="white",
    showlegend=False,
    xaxis=dict(domain=[L1, R1], anchor="y", **common_x),
    yaxis=dict(domain=[BOT, TOP], anchor="x", **common_y),
    xaxis2=dict(domain=[L2, R2], anchor="y2", **common_x),
    yaxis2=dict(domain=[BOT, TOP], anchor="x2", **common_y),
    shapes=[
        dict(type="line", xref="x", yref="y", x0=-0.5, x1=0.5, y0=0, y1=0,
             line=dict(color="black", width=1, dash="18px,7px,2px,7px"), layer="below"),
        dict(type="line", xref="x2", yref="y2", x0=-0.5, x1=0.5, y0=0, y1=0,
             line=dict(color="black", width=1, dash="18px,7px,2px,7px"), layer="below"),
    ],
)

title_font = dict(family="Liberation Serif, DejaVu Serif, serif", size=30, color="black")
spaced = '<span style="letter-spacing:4.5px">{}</span>'
fig.add_annotation(text=spaced.format(TITLE_LEFT), x=422 / W, y=1 - 25 / H, xref="paper", yref="paper",
                   xanchor="center", yanchor="middle", showarrow=False, font=title_font)
fig.add_annotation(text=spaced.format(TITLE_RIGHT), x=1227 / W, y=1 - 25 / H, xref="paper", yref="paper",
                   xanchor="center", yanchor="middle", showarrow=False, font=title_font)
label_font = dict(family="Liberation Serif, DejaVu Serif, serif", size=30, color="black")
fig.add_annotation(text=X_LABEL, x=398 / W, y=1 - 858 / H, xref="paper", yref="paper",
                   xanchor="center", yanchor="middle", showarrow=False, font=label_font)
fig.add_annotation(text=X_LABEL, x=1200 / W, y=1 - 858 / H, xref="paper", yref="paper",
                   xanchor="center", yanchor="middle", showarrow=False, font=label_font)

fig.write_html("out.html", include_plotlyjs=True, config={"displayModeBar": False})
